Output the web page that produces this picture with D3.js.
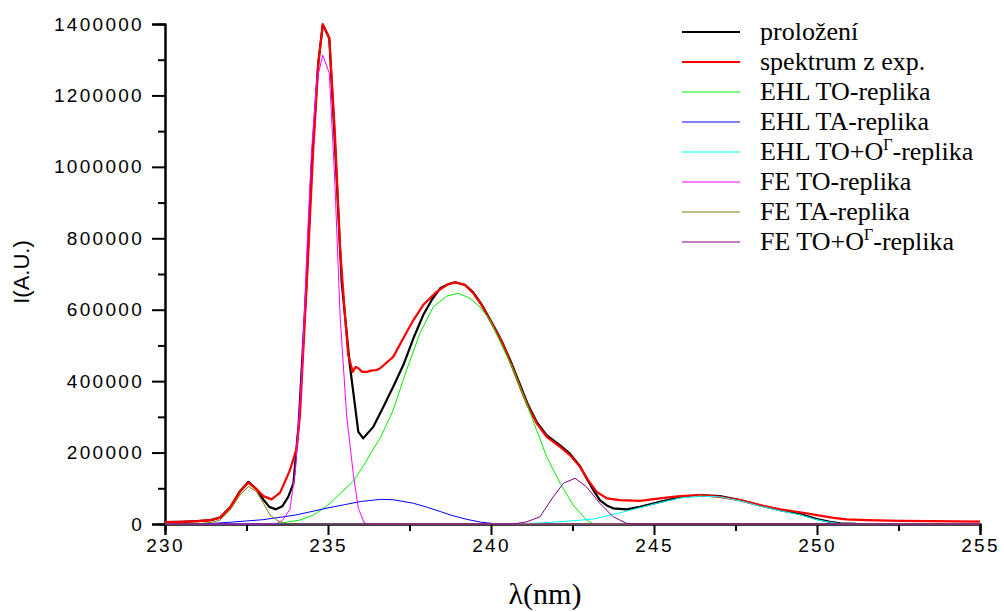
<!DOCTYPE html>
<html>
<head>
<meta charset="utf-8">
<script src="https://cdn.jsdelivr.net/npm/d3@7"></script>
<style>
  body { margin: 0; background: #fff; }
  svg { display: block; }
</style>
</head>
<body>
<script>
// [lambda (nm), intensity (a.u.)]
var fitData = [[230,5000],[230.5,6000],[231,8000],[231.4,11000],[231.69,18000],[232,47000],[232.3,92000],[232.56,118000],[232.81,97000],[233.02,68000],[233.2,48000],[233.4,41000],[233.6,50000],[233.78,76000],[233.94,114000],[234.1,280000],[234.35,690000],[234.5,1005000],[234.7,1290000],[234.84,1399000],[235.04,1360000],[235.21,1070000],[235.42,678000],[235.67,445000],[235.93,258000],[236.08,240000],[236.39,272000],[236.7,328000],[237,384000],[237.31,445000],[237.62,520000],[237.92,585000],[238.2,630000],[238.44,660000],[238.7,672000],[238.9,677000],[239.2,670000],[239.46,648000],[239.71,615000],[240.02,565000],[240.33,512000],[240.63,450000],[240.89,390000],[241.14,333000],[241.4,286000],[241.71,248000],[242.12,220000],[242.42,197000],[242.73,162000],[242.93,128000],[243.14,95000],[243.34,67000],[243.55,52000],[243.75,44000],[244.16,41000],[244.57,48000],[245.18,62000],[245.8,75000],[246.41,81000],[247.02,78000],[247.64,67000],[248.25,52000],[248.87,39000],[249.48,28000],[250,14000],[250.4,6000],[250.71,2000],[251.2,500],[255,0]];

var expData = [[230,5000],[230.5,6000],[231,8000],[231.4,11000],[231.69,18000],[232,47000],[232.3,90000],[232.56,116000],[232.81,97000],[233.02,78000],[233.27,69000],[233.53,88000],[233.83,150000],[234.04,212000],[234.14,305000],[234.35,678000],[234.55,1052000],[234.7,1285000],[234.84,1399000],[235.04,1360000],[235.21,1098000],[235.37,773000],[235.52,585000],[235.62,473000],[235.76,426000],[235.85,440000],[235.93,436000],[236.05,426000],[236.19,426000],[236.35,430000],[236.49,431000],[236.6,436000],[237,468000],[237.31,520000],[237.62,571000],[237.92,613000],[238.33,650000],[238.64,669000],[238.9,677000],[239.2,669000],[239.46,646000],[239.71,613000],[240.02,562000],[240.33,510000],[240.63,445000],[240.89,384000],[241.14,328000],[241.4,282000],[241.71,244000],[242.12,216000],[242.42,193000],[242.73,160000],[242.98,123000],[243.24,90000],[243.55,72000],[243.96,67000],[244.57,65000],[245.18,72000],[245.8,78000],[246.41,81000],[247.02,76000],[247.64,67000],[248.25,53000],[248.87,41000],[249.48,33000],[250,25000],[250.5,17000],[250.91,13000],[251.5,11000],[252.55,9000],[253.5,8000],[255,6500]];

var ehlTO = [[230,0],[233,0],[233.5,2000],[234.14,11000],[234.55,25000],[234.96,50000],[235.37,85000],[235.78,120000],[236.1,165000],[236.39,210000],[236.6,240000],[237,319000],[237.41,431000],[237.82,534000],[238.23,608000],[238.64,638000],[239,646000],[239.36,632000],[239.66,608000],[239.97,571000],[240.28,510000],[240.69,431000],[241.09,338000],[241.4,263000],[241.71,188000],[242.12,114000],[242.52,53000],[242.93,11000],[243.14,0],[255,0]];

var ehlTA = [[230,0],[230.8,0],[231.5,2000],[232,5000],[233,12000],[234,25000],[235,45000],[235.5,54000],[236,63000],[236.6,69000],[237,68000],[237.62,58000],[238,48000],[238.44,35000],[238.8,24000],[239.26,13000],[239.7,5000],[240.1,1000],[240.4,0],[255,0]];

var ehlTOO = [[230,0],[240.5,0],[241,1000],[241.71,4000],[242.52,9000],[243.14,14000],[243.75,27000],[244.16,36000],[244.57,46000],[245.18,60000],[245.8,73000],[246.41,78000],[247.02,76000],[247.64,65000],[248.25,50000],[248.87,37000],[249.48,26000],[250,12000],[250.4,5000],[250.7,1000],[251,0],[255,0]];

var feTO = [[230,0],[233.4,0],[233.6,10000],[233.83,40000],[234,150000],[234.2,420000],[234.35,760000],[234.5,1050000],[234.65,1240000],[234.84,1313000],[235.04,1262000],[235.21,958000],[235.37,585000],[235.57,305000],[235.78,137000],[235.93,44000],[236.1,5000],[236.2,0],[255,0]];

var feTA = [[230,0],[230.8,0],[231.17,2000],[231.5,6000],[231.69,11000],[232,39000],[232.3,81000],[232.56,105000],[232.81,90000],[233.02,58000],[233.22,25000],[233.43,11000],[233.63,2000],[233.9,0],[255,0]];

var feTOO = [[230,0],[240.69,0],[241.09,6000],[241.5,20000],[241.91,76000],[242.22,114000],[242.58,128000],[242.93,104000],[243.34,58000],[243.75,20000],[244.16,2000],[244.5,0],[255,0]];

var xTicks = [230, 235, 240, 245, 250, 255];
var yTicks = [0, 200000, 400000, 600000, 800000, 1000000, 1200000, 1400000];

var series = [
  {name: "prolo\u017een\u00ed", data: fitData, color: "#000000", width: 2.2},
  {name: "spektrum z exp.", data: expData, color: "#ff0000", width: 2.2},
  {name: "EHL TO-replika", data: ehlTO, color: "#00ee00", width: 1},
  {name: "EHL TA-replika", data: ehlTA, color: "#0000ff", width: 1},
  {name: "EHL TO+O|-replika", data: ehlTOO, color: "#00ffff", width: 1},
  {name: "FE TO-replika", data: feTO, color: "#ff00ff", width: 1},
  {name: "FE TA-replika", data: feTA, color: "#808000", width: 1},
  {name: "FE TO+O|-replika", data: feTOO, color: "#800080", width: 1}
];

var width = 1004,
    height = 612;

var svg = d3.select("body").append("svg")
    .attr("width", width)
    .attr("height", height);

var x = d3.scaleLinear().domain([230, 255]).range([165, 980]);
var y = d3.scaleLinear().domain([0, 1400000]).range([524, 24]);

var line = d3.line()
    .x(function(d) { return x(d[0]); })
    .y(function(d) { return y(d[1]); });

// axes
var xAxis = svg.append("g")
    .attr("transform", "translate(0,524)")
    .call(d3.axisBottom(x).tickValues(xTicks).tickFormat(d3.format("d")).tickSize(11).tickPadding(4));
xAxis.append("g")
    .call(d3.axisBottom(x).tickValues(d3.range(232.5, 255, 5)).tickFormat("").tickSize(7));

var yAxis = svg.append("g")
    .attr("transform", "translate(165,0)")
    .call(d3.axisLeft(y).tickValues(yTicks).tickFormat(d3.format("d")).tickSize(13).tickPadding(8));
yAxis.append("g")
    .call(d3.axisLeft(y).tickValues(d3.range(100000, 1400000, 200000)).tickFormat("").tickSize(7));

svg.selectAll(".domain")
    .attr("stroke", "#000")
    .attr("stroke-width", 2);
svg.selectAll(".tick line")
    .attr("stroke", "#000")
    .attr("stroke-width", 2);
svg.selectAll(".tick text")
    .attr("fill", "#000")
    .style("font-family", "'Liberation Sans', Arial, sans-serif")
    .style("font-size", "19px")
    .style("letter-spacing", "2.3px");

svg.append("g").selectAll("path")
    .data(series)
    .enter().append("path")
    .attr("fill", "none")
    .attr("stroke", function(d) { return d.color; })
    .attr("stroke-width", function(d) { return d.width; })
    .attr("stroke-linejoin", "round")
    .attr("d", function(d) { return line(d.data); });

svg.append("text")
    .attr("transform", "translate(29,272) rotate(-90)")
    .attr("text-anchor", "middle")
    .style("font-family", "'Liberation Sans', Arial, sans-serif")
    .style("font-size", "22px")
    .text("I(A.U.)");

svg.append("text")
    .attr("x", 545)
    .attr("y", 604)
    .attr("text-anchor", "middle")
    .style("font-family", "'Liberation Serif', 'Times New Roman', serif")
    .style("font-size", "30px")
    .text("\u03bb(nm)");

// legend
var legend = svg.append("g")
    .selectAll("g")
    .data(series)
    .enter().append("g")
    .attr("transform", function(d, i) { return "translate(0," + (32 + i * 30) + ")"; });

legend.append("line")
    .attr("x1", 682)
    .attr("x2", 740)
    .attr("stroke", function(d) { return d.color; })
    .attr("stroke-width", function(d) { return d.width; });

var label = legend.append("text")
    .attr("x", 760)
    .attr("y", 8)
    .style("font-family", "'Liberation Serif', 'Times New Roman', serif")
    .style("font-size", "26px");

label.each(function(d) {
  var t = d3.select(this),
      parts = d.name.split("|");
  t.append("tspan").text(parts[0]);
  if (parts.length > 1) {
    t.append("tspan").attr("dy", -10).style("font-size", "16px").text("\u0393");
    t.append("tspan").attr("dy", 10).text(parts[1]);
  }
});
</script>
</body>
</html>
